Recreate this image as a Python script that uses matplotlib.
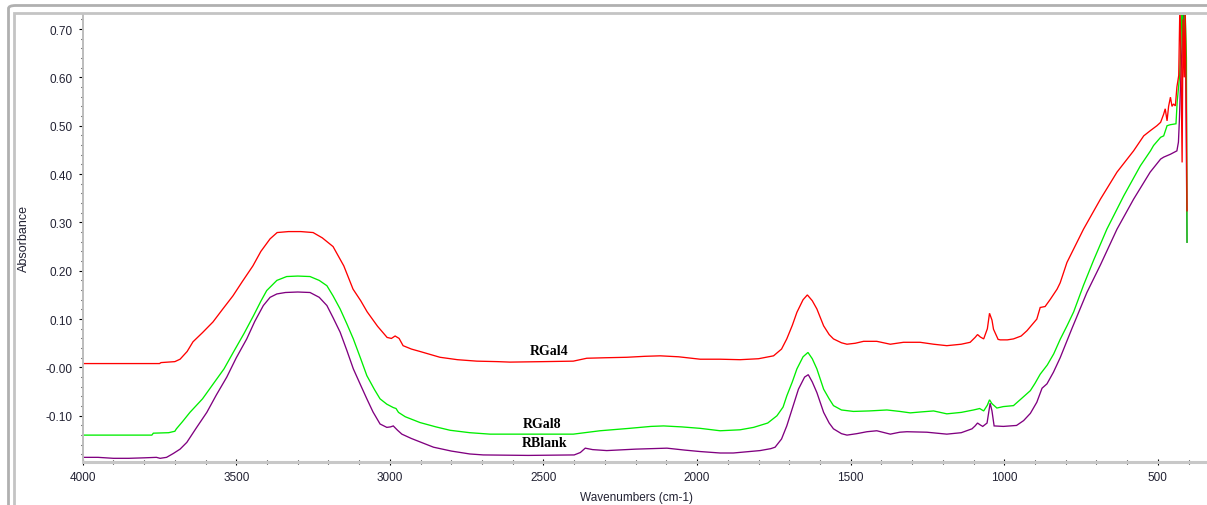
import matplotlib
matplotlib.use("Agg")
import matplotlib.pyplot as plt
from matplotlib.patches import FancyBboxPatch, Rectangle
from matplotlib.ticker import FixedLocator, MultipleLocator, FixedFormatter

# ---------------- spectra (wavenumber in cm-1, absorbance) ----------------
rgal4_wn = [4000, 3900, 3800, 3750, 3745, 3700, 3683, 3660, 3641, 3610, 3576, 3545,
            3511, 3480, 3446, 3420, 3390, 3367, 3330, 3290, 3250, 3220, 3185, 3150,
            3120, 3095, 3074, 3040, 3009, 2995, 2983, 2970, 2957, 2930, 2902, 2837,
            2780, 2717, 2650, 2609, 2500, 2403, 2359, 2300, 2229, 2170, 2120, 2060,
            1990, 1925, 1860, 1800, 1751, 1725, 1708, 1690, 1675, 1655, 1641, 1625,
            1610, 1588, 1570, 1556, 1530, 1512, 1485, 1458, 1415, 1371, 1328, 1274,
            1230, 1187, 1140, 1111, 1095, 1087, 1078, 1067, 1055, 1048, 1040, 1035,
            1020, 1013, 990, 970, 945, 926, 894, 883, 867, 850, 828, 818, 796, 742, 687,
            633, 579, 546, 524, 503, 491, 481, 476, 470, 465, 459, 454, 449, 443,
            438, 432, 428, 425, 421, 418, 414, 411, 407, 405]
rgal4_abs = [0.008, 0.008, 0.008, 0.008, 0.010, 0.012, 0.017, 0.033, 0.053, 0.072, 0.094, 0.120,
             0.148, 0.178, 0.210, 0.240, 0.266, 0.279, 0.281, 0.281, 0.279, 0.268, 0.250, 0.210,
             0.162, 0.138, 0.115, 0.085, 0.062, 0.060, 0.065, 0.060, 0.045, 0.038, 0.033, 0.021,
             0.016, 0.013, 0.012, 0.011, 0.012, 0.013, 0.019, 0.020, 0.021, 0.023, 0.024, 0.022,
             0.017, 0.017, 0.016, 0.018, 0.024, 0.038, 0.059, 0.087, 0.114, 0.140, 0.150, 0.138,
             0.121, 0.086, 0.068, 0.059, 0.051, 0.048, 0.050, 0.054, 0.054, 0.048, 0.052, 0.052,
             0.048, 0.045, 0.048, 0.052, 0.062, 0.068, 0.063, 0.059, 0.080, 0.112, 0.098, 0.079,
             0.058, 0.057, 0.057, 0.059, 0.065, 0.076, 0.100, 0.124, 0.126, 0.141, 0.162, 0.175, 0.217,
             0.286, 0.348, 0.404, 0.448, 0.479, 0.490, 0.500, 0.507, 0.524, 0.535, 0.510, 0.540,
             0.559, 0.540, 0.545, 0.541, 0.580, 0.604, 0.760, 0.645, 0.424, 0.720, 0.600, 0.740,
             0.521, 0.324]

rgal8_wn = [4000, 3850, 3775, 3770, 3720, 3700, 3695, 3675, 3651, 3610, 3575, 3540,
            3510, 3475, 3444, 3420, 3401, 3368, 3336, 3300, 3260, 3230, 3205, 3185,
            3162, 3140, 3119, 3095, 3075, 3050, 3032, 3010, 2989, 2980, 2972, 2950,
            2902, 2850, 2804, 2740, 2674, 2550, 2403, 2316, 2220, 2150, 2109, 2050,
            1990, 1925, 1860, 1816, 1770, 1740, 1720, 1708, 1690, 1675, 1655, 1639,
            1625, 1610, 1588, 1570, 1556, 1530, 1491, 1440, 1382, 1340, 1306, 1270,
            1230, 1187, 1140, 1100, 1080, 1067, 1055, 1048, 1040, 1024, 1003, 970,
            945, 915, 900, 883, 860, 839, 818, 795, 774, 742, 709, 666, 611, 557, 524, 514,
            491, 481, 470, 460, 441, 437, 429, 425, 421, 417, 412, 407, 405]
rgal8_abs = [-0.140, -0.140, -0.140, -0.136, -0.135, -0.132, -0.127, -0.112, -0.093, -0.065, -0.034, -0.003,
             0.031, 0.070, 0.107, 0.137, 0.159, 0.180, 0.188, 0.189, 0.188, 0.180, 0.169, 0.148,
             0.121, 0.090, 0.059, 0.018, -0.017, -0.046, -0.065, -0.076, -0.083, -0.085, -0.093, -0.102,
             -0.114, -0.123, -0.130, -0.135, -0.138, -0.138, -0.138, -0.131, -0.126, -0.122, -0.121, -0.123,
             -0.126, -0.131, -0.129, -0.124, -0.115, -0.100, -0.082, -0.059, -0.030, -0.003, 0.022, 0.031,
             0.018, -0.003, -0.045, -0.065, -0.079, -0.088, -0.091, -0.090, -0.088, -0.091, -0.094, -0.092,
             -0.090, -0.096, -0.093, -0.088, -0.085, -0.090, -0.078, -0.067, -0.075, -0.084, -0.081, -0.079,
             -0.065, -0.048, -0.033, -0.014, 0.005, 0.028, 0.058, 0.087, 0.115, 0.170, 0.222, 0.286, 0.355,
             0.417, 0.448, 0.459,
             0.476, 0.479, 0.500, 0.502, 0.504, 0.550, 0.604, 0.670, 0.760, 0.640, 0.760, 0.640, 0.259]

rblank_wn = [4000, 3950, 3900, 3850, 3800, 3760, 3748, 3727, 3705, 3683, 3661, 3630,
             3596, 3565, 3531, 3500, 3466, 3440, 3412, 3390, 3368, 3340, 3300, 3260,
             3230, 3205, 3185, 3162, 3140, 3119, 3095, 3075, 3055, 3032, 3010, 2998,
             2989, 2975, 2961, 2930, 2902, 2858, 2800, 2740, 2696, 2550, 2400, 2380,
             2364, 2340, 2294, 2200, 2098, 2040, 1990, 1925, 1882, 1795, 1760, 1746,
             1725, 1708, 1690, 1670, 1650, 1638, 1625, 1610, 1588, 1570, 1556, 1530,
             1512, 1480, 1447, 1415, 1371, 1340, 1317, 1252, 1187, 1140, 1105, 1095,
             1087, 1078, 1070, 1056, 1046, 1040, 1033, 1003, 960, 937, 915, 894, 877,
             861, 840, 818, 780, 731, 687, 633, 579, 525, 491, 481, 459, 438, 433,
             430, 427, 421, 418, 414, 411, 405]
rblank_abs = [-0.186, -0.186, -0.188, -0.188, -0.187, -0.186, -0.188, -0.186, -0.178, -0.169, -0.155, -0.125,
              -0.093, -0.057, -0.020, 0.020, 0.059, 0.095, 0.128, 0.145, 0.152, 0.155, 0.156, 0.155,
              0.145, 0.128, 0.103, 0.073, 0.035, -0.003, -0.037, -0.065, -0.092, -0.117, -0.124, -0.123,
              -0.121, -0.130, -0.138, -0.147, -0.154, -0.165, -0.173, -0.179, -0.181, -0.182, -0.181, -0.176,
              -0.167, -0.170, -0.172, -0.169, -0.167, -0.171, -0.174, -0.177, -0.177, -0.172, -0.168, -0.165,
              -0.148, -0.121, -0.085, -0.045, -0.020, -0.015, -0.030, -0.052, -0.093, -0.115, -0.127, -0.137,
              -0.140, -0.137, -0.133, -0.131, -0.138, -0.134, -0.133, -0.134, -0.138, -0.135, -0.127, -0.121,
              -0.115, -0.119, -0.122, -0.115, -0.074, -0.090, -0.121, -0.122, -0.120, -0.110, -0.095, -0.072, -0.043,
              -0.034, -0.010, 0.020, 0.080, 0.155, 0.212, 0.286, 0.348, 0.404, 0.431, 0.435, 0.441, 0.448, 0.466,
              0.510, 0.569, 0.670, 0.760, 0.640, 0.760, 0.259]

series_names = ["RBlank", "RGal8", "RGal4"]

# label anchors (wavenumber, absorbance)
label_wn = [2495, 2504, 2482]
label_abs = [-0.156, -0.115, 0.035]

xtick_values = [4000, 3500, 3000, 2500, 2000, 1500, 1000, 500]
xtick_labels = ["4000", "3500", "3000", "2500", "2000", "1500", "1000", "500"]
ytick_values = [-0.10, 0.00, 0.10, 0.20, 0.30, 0.40, 0.50, 0.60, 0.70]
ytick_labels = ["-0.10", "-0.00", "0.10", "0.20", "0.30", "0.40", "0.50", "0.60", "0.70"]

# ---------------- figure ----------------
W, H = 1207, 506
fig = plt.figure(figsize=(W / 100, H / 100), dpi=100)
fig.patch.set_facecolor("white")

def fx(px):
    return px / W

def fy(py):
    return 1 - py / H

ax_left, ax_right, ax_top, ax_bottom = 82.7, 1207, 16, 462.7
ax = fig.add_axes([fx(ax_left), fy(ax_bottom), fx(ax_right - ax_left), (ax_bottom - ax_top) / H])

colors = ["#800080", "#00ee00", "#ff0000"]
for wn, ab, c in zip([rblank_wn, rgal8_wn, rgal4_wn], [rblank_abs, rgal8_abs, rgal4_abs], colors):
    ax.plot(wn, ab, color=c, lw=0.95, solid_joinstyle="miter")

for name, xw, ya in zip(series_names, label_wn, label_abs):
    ax.text(xw, ya, name, ha="center", va="center", fontsize=10,
            family="Liberation Serif", fontweight="bold", color="black")

ax.set_xlim(4000, 340)
ax.set_ylim(-0.195, 0.729)

tick_color = "#222233"
ax.xaxis.set_major_locator(FixedLocator(xtick_values))
ax.xaxis.set_major_formatter(FixedFormatter(xtick_labels))
ax.xaxis.set_minor_locator(MultipleLocator(100))
ax.yaxis.set_major_locator(FixedLocator(ytick_values))
ax.yaxis.set_major_formatter(FixedFormatter(ytick_labels))
ax.yaxis.set_minor_locator(MultipleLocator(0.02))

for lbl in ax.get_xticklabels() + ax.get_yticklabels():
    lbl.set_family("Liberation Sans")
ax.tick_params(axis="x", which="major", direction="inout", length=4.5, width=0.8,
               color="black", labelsize=8.5, labelcolor=tick_color, pad=4.5)
ax.tick_params(axis="x", which="minor", direction="inout", length=2.2, width=0.8, color="black")
ax.tick_params(axis="y", which="major", direction="out", length=3.2, width=0.8,
               color="black", labelsize=8.5, labelcolor=tick_color, pad=4)
ax.tick_params(axis="y", which="minor", direction="out", length=1.8, width=0.8, color="black")

for s in ("top", "right"):
    ax.spines[s].set_visible(False)
ax.spines["bottom"].set_color("#c8c8c8")
ax.spines["bottom"].set_linewidth(2.2)
ax.spines["left"].set_color("#bdbdbd")
ax.spines["left"].set_linewidth(1.4)

ax.set_xlabel("Wavenumbers (cm-1)", family="Liberation Sans", fontsize=8.5, color=tick_color)
ax.set_ylabel("Absorbance", family="Liberation Sans", fontsize=9, color=tick_color)
ax.xaxis.set_label_coords(0.4926, -0.078)
ax.yaxis.set_label_coords(-0.0522, 0.5008)
ax.xaxis.label.set_va("center")
ax.yaxis.label.set_va("center")

# window frame around the plot
outer = FancyBboxPatch((fx(8.5), fy(560)), fx(1300), (560 - 6.5) / H,
                       boxstyle="round,pad=0,rounding_size=0.006",
                       transform=fig.transFigure, facecolor="none",
                       edgecolor="#b0b0b0", lw=2.0, clip_on=False)
fig.add_artist(outer)
inner = Rectangle((fx(14), fy(560)), fx(1300), (560 - 14) / H,
                  transform=fig.transFigure, facecolor="none",
                  edgecolor="#c4c4c4", lw=2.0, clip_on=False)
fig.add_artist(inner)

fig.savefig("out.png", dpi=100)
